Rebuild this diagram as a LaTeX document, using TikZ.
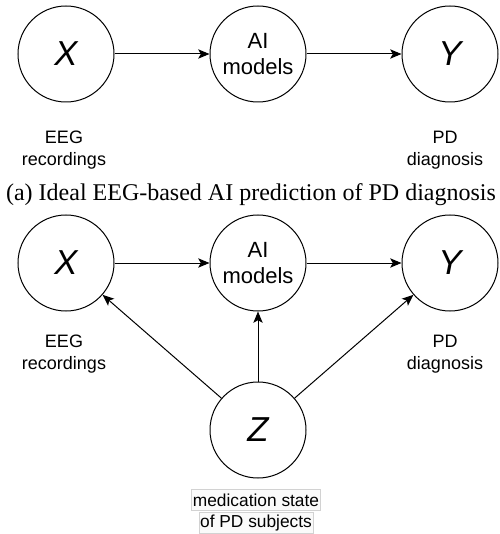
\documentclass[tikz,border=0pt]{standalone}
\usepackage{fontspec}
\setmainfont{Liberation Serif}
\setsansfont{Liberation Sans}
\usetikzlibrary{positioning,arrows.meta}

\begin{document}
\begin{tikzpicture}[x=0.75pt,y=-0.75pt,
    var/.style={circle, draw, line width=0.75pt, minimum size=72pt, inner sep=0pt, font=\sffamily\itshape\fontsize{26pt}{30pt}\selectfont},
    model/.style={var, align=center, font=\sffamily\fontsize{16.5pt}{20pt}\selectfont},
    lbl/.style={align=center, font=\sffamily\fontsize{13.5pt}{16.5pt}\selectfont},
    hl/.style={draw=gray!35, fill=gray!4, inner sep=1pt, minimum height=15.5pt, font=\sffamily\fontsize{13pt}{15pt}\selectfont},
    edge/.style={-{Stealth[length=8.5pt,width=7pt,inset=2pt]}, line width=0.75pt}]
    \useasboundingbox (0,0) rectangle (499,534);
    % (a) ideal setting
    \node[var] (x1) at (66,54) {X};
    \node[model] (ai1) at (258,54) {AI\\models};
    \node[var] (y1) at (450,54) {Y};
    \node[lbl] (eeg1) at (64,150) {EEG\\recordings};
    \node[lbl] (pd1) at (445,150) {PD\\diagnosis};
    \draw[edge] (x1) -- (ai1);
    \draw[edge] (ai1) -- (y1);
    \node[font=\fontsize{18pt}{20pt}\selectfont] (cap) at (251,195) {(a) Ideal EEG-based AI prediction of PD diagnosis};
    % (b) with confounder
    \node[var] (x2) at (66,263) {X};
    \node[model] (ai2) at (258,263) {AI\\models};
    \node[var] (y2) at (450,263) {Y};
    \node[var] (z) at (258,430) {Z};
    \node[lbl] (eeg2) at (64,354) {EEG\\recordings};
    \node[lbl] (pd2) at (445,354) {PD\\diagnosis};
    \node[hl] (med1) at (256,500) {medication state};
    \node[hl] (med2) at (256,523) {of PD subjects};
    \draw[edge] (x2) -- (ai2);
    \draw[edge] (ai2) -- (y2);
    \draw[edge] (z) -- (x2);
    \draw[edge] (z) -- (ai2);
    \draw[edge] (z) -- (y2);
\end{tikzpicture}
\end{document}
